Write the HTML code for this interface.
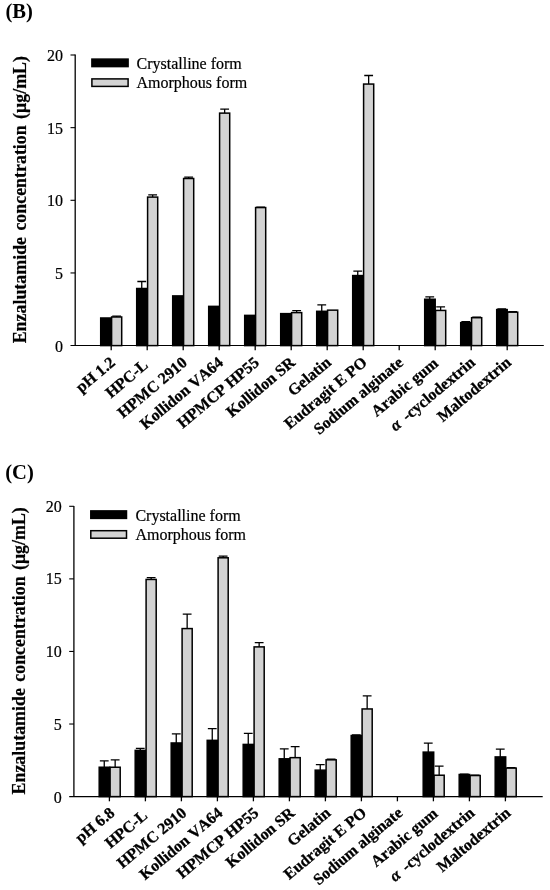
<!DOCTYPE html>
<html><head><meta charset="utf-8"><title>Figure</title>
<style>
html,body{margin:0;padding:0;background:#fff;}
svg{display:block;will-change:transform;}
text{font-family:"Liberation Serif",serif;fill:#000;font-kerning:none;}
.t{font-size:16px;stroke:#000;stroke-width:0.2px;}
.yt{font-size:17.9px;word-spacing:1.9px;font-weight:bold;stroke:#000;stroke-width:0.2px;}
.xl{font-size:16px;font-weight:bold;stroke:#000;stroke-width:0.3px;}
.pt{font-size:20.6px;font-weight:bold;}
.l{stroke:#000;stroke-width:1.3;fill:none;}
.b{stroke:#000;stroke-width:1.5;}
</style></head><body>
<svg width="550" height="890" viewBox="0 0 550 890">
<rect x="0" y="0" width="550" height="890" fill="#fff"/>
<rect x="100.70" y="317.99" width="10.5" height="27.61" fill="#000" class="b"/>
<path d="M116.65 316.98V316.10M112.25 316.10H121.05" class="l"/>
<rect x="111.60" y="316.98" width="10.1" height="28.62" fill="#d3d3d3" class="b"/>
<path d="M141.75 288.50V281.52M137.35 281.52H146.15" class="l"/>
<rect x="136.70" y="288.50" width="10.5" height="57.10" fill="#000" class="b"/>
<path d="M152.65 197.10V194.92M148.25 194.92H157.05" class="l"/>
<rect x="147.60" y="197.10" width="10.1" height="148.50" fill="#d3d3d3" class="b"/>
<rect x="172.70" y="295.91" width="10.5" height="49.69" fill="#000" class="b"/>
<path d="M188.65 178.50V177.05M184.25 177.05H193.05" class="l"/>
<rect x="183.60" y="178.50" width="10.1" height="167.10" fill="#d3d3d3" class="b"/>
<rect x="208.70" y="306.37" width="10.5" height="39.23" fill="#000" class="b"/>
<path d="M224.65 113.12V109.20M220.25 109.20H229.05" class="l"/>
<rect x="219.60" y="113.12" width="10.1" height="232.48" fill="#d3d3d3" class="b"/>
<rect x="244.70" y="315.38" width="10.5" height="30.22" fill="#000" class="b"/>
<path d="M260.65 207.56V207.13M256.25 207.13H265.05" class="l"/>
<rect x="255.60" y="207.56" width="10.1" height="138.04" fill="#d3d3d3" class="b"/>
<rect x="280.70" y="313.63" width="10.5" height="31.97" fill="#000" class="b"/>
<path d="M296.65 312.62V310.58M292.25 310.58H301.05" class="l"/>
<rect x="291.60" y="312.62" width="10.1" height="32.98" fill="#d3d3d3" class="b"/>
<path d="M321.75 311.31V304.92M317.35 304.92H326.15" class="l"/>
<rect x="316.70" y="311.31" width="10.5" height="34.29" fill="#000" class="b"/>
<rect x="327.60" y="310.15" width="10.1" height="35.45" fill="#d3d3d3" class="b"/>
<path d="M357.75 275.57V271.06M353.35 271.06H362.15" class="l"/>
<rect x="352.70" y="275.57" width="10.5" height="70.03" fill="#000" class="b"/>
<path d="M368.65 84.06V75.49M364.25 75.49H373.05" class="l"/>
<rect x="363.60" y="84.06" width="10.1" height="261.54" fill="#d3d3d3" class="b"/>
<path d="M429.75 299.25V296.92M425.35 296.92H434.15" class="l"/>
<rect x="424.70" y="299.25" width="10.5" height="46.35" fill="#000" class="b"/>
<path d="M440.65 310.44V306.95M436.25 306.95H445.05" class="l"/>
<rect x="435.60" y="310.44" width="10.1" height="35.16" fill="#d3d3d3" class="b"/>
<path d="M465.75 322.64V321.63M461.35 321.63H470.15" class="l"/>
<rect x="460.70" y="322.64" width="10.5" height="22.96" fill="#000" class="b"/>
<path d="M476.65 317.70V317.27M472.25 317.27H481.05" class="l"/>
<rect x="471.60" y="317.70" width="10.1" height="27.90" fill="#d3d3d3" class="b"/>
<path d="M501.75 309.57V308.98M497.35 308.98H506.15" class="l"/>
<rect x="496.70" y="309.57" width="10.5" height="36.03" fill="#000" class="b"/>
<path d="M512.65 312.18V311.75M508.25 311.75H517.05" class="l"/>
<rect x="507.60" y="312.18" width="10.1" height="33.42" fill="#d3d3d3" class="b"/>
<path d="M75.20 54.60V345.50" class="l"/>
<path d="M70.50 345.50H543.80" class="l" style="stroke-width:1.15"/>
<path d="M70.50 272.95H75.20" class="l" style="stroke-width:1.1"/>
<path d="M70.50 200.30H75.20" class="l" style="stroke-width:1.1"/>
<path d="M70.50 127.65H75.20" class="l" style="stroke-width:1.1"/>
<path d="M70.50 55.00H75.20" class="l" style="stroke-width:1.1"/>
<path d="M111.20 345.60V350.30" class="l"/>
<path d="M147.20 345.60V350.30" class="l"/>
<path d="M183.20 345.60V350.30" class="l"/>
<path d="M219.20 345.60V350.30" class="l"/>
<path d="M255.20 345.60V350.30" class="l"/>
<path d="M291.20 345.60V350.30" class="l"/>
<path d="M327.20 345.60V350.30" class="l"/>
<path d="M363.20 345.60V350.30" class="l"/>
<path d="M399.20 345.60V350.30" class="l"/>
<path d="M435.20 345.60V350.30" class="l"/>
<path d="M471.20 345.60V350.30" class="l"/>
<path d="M507.20 345.60V350.30" class="l"/>
<text x="62.90" y="351.50" text-anchor="end" class="t">0</text>
<text x="62.90" y="278.85" text-anchor="end" class="t">5</text>
<text x="62.90" y="206.20" text-anchor="end" class="t">10</text>
<text x="62.90" y="133.55" text-anchor="end" class="t">15</text>
<text x="62.90" y="60.90" text-anchor="end" class="t">20</text>
<text transform="translate(26.20 199.70) rotate(-90)" text-anchor="middle" class="yt">Enzalutamide concentration (μg/mL)</text>
<rect x="91.90" y="59.10" width="36.2" height="7.5" fill="#000" class="b"/>
<rect x="91.90" y="78.90" width="36.2" height="7.5" fill="#d3d3d3" class="b"/>
<text x="136.50" y="68.70" class="t">Crystalline form</text>
<text x="136.50" y="88.00" class="t">Amorphous form</text>
<text transform="translate(116.09 364.11) rotate(-40)" text-anchor="end" class="xl">pH 1.2</text>
<text transform="translate(149.02 366.69) rotate(-40)" text-anchor="end" class="xl">HPC-L</text>
<text transform="translate(188.09 364.11) rotate(-40)" text-anchor="end" class="xl">HPMC 2910</text>
<text transform="translate(224.09 364.11) rotate(-40)" text-anchor="end" class="xl">Kollidon VA64</text>
<text transform="translate(260.09 364.11) rotate(-40)" text-anchor="end" class="xl">HPMCP HP55</text>
<text transform="translate(296.09 364.11) rotate(-40)" text-anchor="end" class="xl">Kollidon SR</text>
<text transform="translate(332.09 364.11) rotate(-40)" text-anchor="end" class="xl">Gelatin</text>
<text transform="translate(368.09 364.11) rotate(-40)" text-anchor="end" class="xl">Eudragit E PO</text>
<text transform="translate(404.09 364.11) rotate(-40)" text-anchor="end" class="xl">Sodium alginate</text>
<text transform="translate(439.17 364.89) rotate(-40)" text-anchor="end" class="xl">Arabic gum</text>
<text transform="translate(476.09 364.11) rotate(-40)" text-anchor="end" class="xl"><tspan font-style="italic">α</tspan><tspan dx="2.7"> -</tspan>cyclodextrin</text>
<text transform="translate(512.09 364.11) rotate(-40)" text-anchor="end" class="xl">Maltodextrin</text>
<text x="5.4" y="18.0" class="pt">(B)</text>
<path d="M104.25 767.24V760.84M99.85 760.84H108.65" class="l"/>
<rect x="99.20" y="767.24" width="10.5" height="29.36" fill="#000" class="b"/>
<path d="M115.15 767.24V759.83M110.75 759.83H119.55" class="l"/>
<rect x="110.10" y="767.24" width="10.1" height="29.36" fill="#d3d3d3" class="b"/>
<path d="M140.25 750.38V748.34M135.85 748.34H144.65" class="l"/>
<rect x="135.20" y="750.38" width="10.5" height="46.22" fill="#000" class="b"/>
<path d="M151.15 579.45V577.70M146.75 577.70H155.55" class="l"/>
<rect x="146.10" y="579.45" width="10.1" height="217.15" fill="#d3d3d3" class="b"/>
<path d="M176.25 742.97V733.81M171.85 733.81H180.65" class="l"/>
<rect x="171.20" y="742.97" width="10.5" height="53.63" fill="#000" class="b"/>
<path d="M187.15 628.58V614.04M182.75 614.04H191.55" class="l"/>
<rect x="182.10" y="628.58" width="10.1" height="168.02" fill="#d3d3d3" class="b"/>
<path d="M212.25 740.35V728.72M207.85 728.72H216.65" class="l"/>
<rect x="207.20" y="740.35" width="10.5" height="56.25" fill="#000" class="b"/>
<path d="M223.15 557.79V556.05M218.75 556.05H227.55" class="l"/>
<rect x="218.10" y="557.79" width="10.1" height="238.81" fill="#d3d3d3" class="b"/>
<path d="M248.25 744.42V733.37M243.85 733.37H252.65" class="l"/>
<rect x="243.20" y="744.42" width="10.5" height="52.18" fill="#000" class="b"/>
<path d="M259.15 646.89V642.53M254.75 642.53H263.55" class="l"/>
<rect x="254.10" y="646.89" width="10.1" height="149.71" fill="#d3d3d3" class="b"/>
<path d="M284.25 758.81V748.93M279.85 748.93H288.65" class="l"/>
<rect x="279.20" y="758.81" width="10.5" height="37.79" fill="#000" class="b"/>
<path d="M295.15 757.65V746.60M290.75 746.60H299.55" class="l"/>
<rect x="290.10" y="757.65" width="10.1" height="38.95" fill="#d3d3d3" class="b"/>
<path d="M320.25 770.15V764.62M315.85 764.62H324.65" class="l"/>
<rect x="315.20" y="770.15" width="10.5" height="26.45" fill="#000" class="b"/>
<path d="M331.15 759.83V759.25M326.75 759.25H335.55" class="l"/>
<rect x="326.10" y="759.83" width="10.1" height="36.77" fill="#d3d3d3" class="b"/>
<path d="M356.25 735.55V734.83M351.85 734.83H360.65" class="l"/>
<rect x="351.20" y="735.55" width="10.5" height="61.05" fill="#000" class="b"/>
<path d="M367.15 708.95V695.87M362.75 695.87H371.55" class="l"/>
<rect x="362.10" y="708.95" width="10.1" height="87.65" fill="#d3d3d3" class="b"/>
<path d="M428.25 752.12V743.11M423.85 743.11H432.65" class="l"/>
<rect x="423.20" y="752.12" width="10.5" height="44.48" fill="#000" class="b"/>
<path d="M439.15 775.23V766.22M434.75 766.22H443.55" class="l"/>
<rect x="434.10" y="775.23" width="10.1" height="21.37" fill="#d3d3d3" class="b"/>
<path d="M464.25 774.51V774.07M459.85 774.07H468.65" class="l"/>
<rect x="459.20" y="774.51" width="10.5" height="22.09" fill="#000" class="b"/>
<path d="M475.15 775.52V775.09M470.75 775.09H479.55" class="l"/>
<rect x="470.10" y="775.52" width="10.1" height="21.08" fill="#d3d3d3" class="b"/>
<path d="M500.25 756.92V749.22M495.85 749.22H504.65" class="l"/>
<rect x="495.20" y="756.92" width="10.5" height="39.68" fill="#000" class="b"/>
<path d="M511.15 768.11V767.53M506.75 767.53H515.55" class="l"/>
<rect x="506.10" y="768.11" width="10.1" height="28.49" fill="#d3d3d3" class="b"/>
<path d="M73.90 505.90V796.60" class="l"/>
<path d="M69.20 796.60H542.70" class="l" style="stroke-width:1.3"/>
<path d="M69.20 724.02H73.90" class="l" style="stroke-width:1.1"/>
<path d="M69.20 651.45H73.90" class="l" style="stroke-width:1.1"/>
<path d="M69.20 578.88H73.90" class="l" style="stroke-width:1.1"/>
<path d="M69.20 506.30H73.90" class="l" style="stroke-width:1.1"/>
<path d="M109.40 796.60V801.30" class="l"/>
<path d="M145.40 796.60V801.30" class="l"/>
<path d="M181.40 796.60V801.30" class="l"/>
<path d="M217.40 796.60V801.30" class="l"/>
<path d="M253.40 796.60V801.30" class="l"/>
<path d="M289.40 796.60V801.30" class="l"/>
<path d="M325.40 796.60V801.30" class="l"/>
<path d="M361.40 796.60V801.30" class="l"/>
<path d="M397.40 796.60V801.30" class="l"/>
<path d="M433.40 796.60V801.30" class="l"/>
<path d="M469.40 796.60V801.30" class="l"/>
<path d="M505.40 796.60V801.30" class="l"/>
<text x="61.80" y="802.50" text-anchor="end" class="t">0</text>
<text x="61.80" y="729.82" text-anchor="end" class="t">5</text>
<text x="61.80" y="657.15" text-anchor="end" class="t">10</text>
<text x="61.80" y="584.48" text-anchor="end" class="t">15</text>
<text x="61.80" y="511.80" text-anchor="end" class="t">20</text>
<text transform="translate(25.10 650.85) rotate(-90)" text-anchor="middle" class="yt">Enzalutamide concentration (μg/mL)</text>
<rect x="90.80" y="510.90" width="35.7" height="7.5" fill="#000" class="b"/>
<rect x="90.80" y="530.70" width="35.7" height="7.5" fill="#d3d3d3" class="b"/>
<text x="135.40" y="520.50" class="t">Crystalline form</text>
<text x="135.40" y="539.80" class="t">Amorphous form</text>
<text transform="translate(115.59 814.51) rotate(-40)" text-anchor="end" class="xl">pH 6.8</text>
<text transform="translate(148.52 817.09) rotate(-40)" text-anchor="end" class="xl">HPC-L</text>
<text transform="translate(187.59 814.51) rotate(-40)" text-anchor="end" class="xl">HPMC 2910</text>
<text transform="translate(223.59 814.51) rotate(-40)" text-anchor="end" class="xl">Kollidon VA64</text>
<text transform="translate(259.59 814.51) rotate(-40)" text-anchor="end" class="xl">HPMCP HP55</text>
<text transform="translate(295.59 814.51) rotate(-40)" text-anchor="end" class="xl">Kollidon SR</text>
<text transform="translate(331.59 814.51) rotate(-40)" text-anchor="end" class="xl">Gelatin</text>
<text transform="translate(367.59 814.51) rotate(-40)" text-anchor="end" class="xl">Eudragit E PO</text>
<text transform="translate(403.59 814.51) rotate(-40)" text-anchor="end" class="xl">Sodium alginate</text>
<text transform="translate(438.67 815.29) rotate(-40)" text-anchor="end" class="xl">Arabic gum</text>
<text transform="translate(475.59 814.51) rotate(-40)" text-anchor="end" class="xl"><tspan font-style="italic">α</tspan><tspan dx="2.7"> -</tspan>cyclodextrin</text>
<text transform="translate(511.59 814.51) rotate(-40)" text-anchor="end" class="xl">Maltodextrin</text>
<text x="5.2" y="479.4" class="pt">(C)</text>
</svg>
</body></html>
